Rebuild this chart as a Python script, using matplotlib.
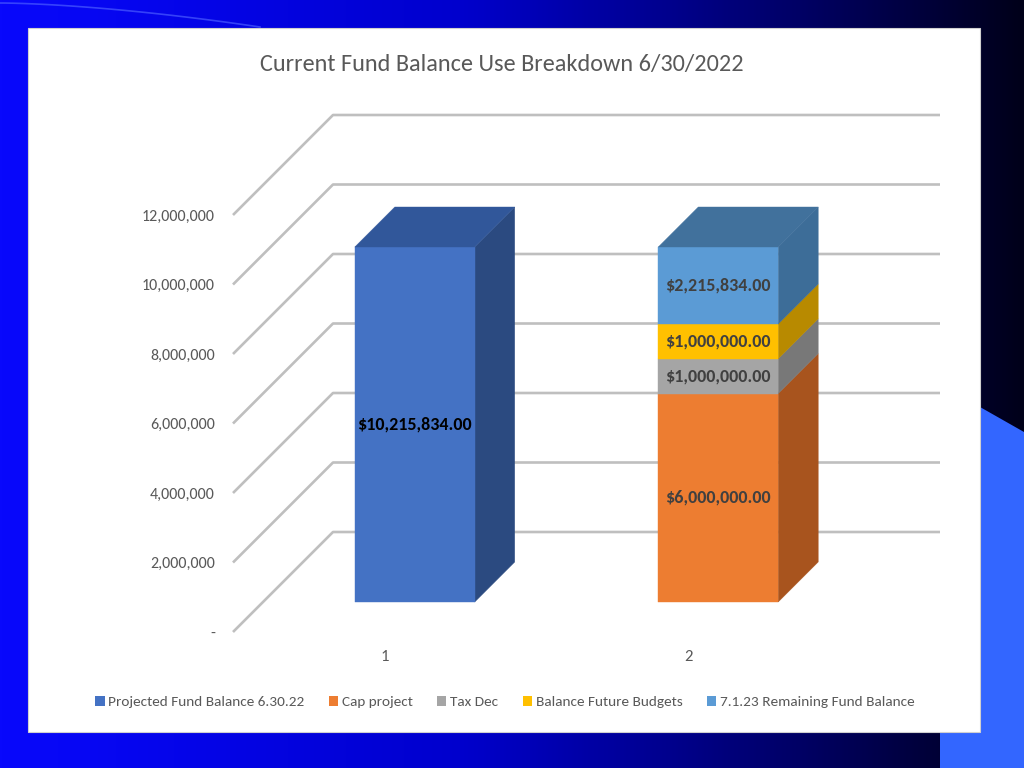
import numpy as np
import matplotlib
matplotlib.use("Agg")
import matplotlib.pyplot as plt
from matplotlib.patches import Polygon, Rectangle, Patch
from matplotlib import font_manager

names = {f.name for f in font_manager.fontManager.ttflist}
FONT = "DejaVu Sans"
for cand in ["Carlito", "Liberation Sans Narrow", "Open Sans", "Liberation Sans"]:
    if cand in names:
        FONT = cand
        break
plt.rcParams["font.family"] = [FONT, "DejaVu Sans"]

# ---------------- data ----------------
categories = ["1", "2"]
series_names = ["Projected Fund Balance 6.30.22", "Cap project", "Tax Dec",
                "Balance Future Budgets", "7.1.23 Remaining Fund Balance"]
projected = [10215834, 0]
cap_project = [0, 6000000]
tax_dec = [0, 1000000]
future_budgets = [0, 1000000]
remaining = [0, 2215834]
series_values = [projected, cap_project, tax_dec, future_budgets, remaining]
yticks = [0, 2000000, 4000000, 6000000, 8000000, 10000000, 12000000]
ytick_labels = ["-", "2,000,000", "4,000,000", "6,000,000", "8,000,000",
                "10,000,000", "12,000,000"]
title = "Current Fund Balance Use Breakdown 6/30/2022"

front_colors = ["#4472C4", "#ED7D31", "#A5A5A5", "#FFC000", "#5B9BD5"]
side_colors = ["#2B4A80", "#A8541E", "#787878", "#B88A00", "#3D6D98"]
top_colors = ["#31579A", "#B25E25", "#8A8A8A", "#C49400", "#41719C"]
label_colors = ["#000000", "#404040", "#404040", "#404040", "#404040"]

# ---------------- figure ----------------
W, H = 1024, 768
fig = plt.figure(figsize=(W / 100, H / 100), dpi=100)

# background slide
bg = fig.add_axes([0, 0, 1, 1], zorder=-10)
bg.set_xlim(0, W)
bg.set_ylim(H, 0)
bg.set_axis_off()
xs = np.linspace(0, 1, 512)
stops = [0.0, 0.45, 0.8, 1.0]
r = np.interp(xs, stops, [8, 0, 0, 0])
g = np.interp(xs, stops, [8, 0, 0, 0])
b = np.interp(xs, stops, [252, 205, 95, 25])
grad = np.stack([r, g, b], axis=-1)[None, :, :] / 255.0
bg.imshow(grad, extent=[0, W, H, 0], aspect="auto", zorder=0)
bg.add_patch(Polygon([(980, 407), (1024, 432), (1024, 768), (940, 768), (940, 732), (980, 732)],
                     closed=True, facecolor="#3366FF", edgecolor="none", zorder=1))
t = np.linspace(0, 1, 50)
bg.plot(t * 260, 3 + 24 * t ** 1.6, color="#4a5cff", lw=1.2, alpha=0.7, zorder=1)
bg.add_patch(Rectangle((28, 28), 952, 704, facecolor="white", edgecolor="#D0D0D0",
                       lw=0.8, zorder=2))

# plot axes = front plane of 3D chart
L, R, B, T = 233, 840, 632, 215
ax = fig.add_axes([L / W, (H - B) / H, (R - L) / W, (B - T) / H])
ax.set_xlim(0, 2)
ax.set_ylim(0, 12000000)
ax.patch.set_alpha(0)
for s in ax.spines.values():
    s.set_visible(False)

DEPTH_PX = 100.0
dx_unit = (2.0 / (R - L)) * DEPTH_PX
dy_unit = (12000000.0 / (B - T)) * DEPTH_PX


def P(x, v, d):
    return (x + d * dx_unit, v + d * dy_unit)


grid_color = "#BFBFBF"
for v in yticks:
    pts = [P(0, v, 0), P(0, v, 1), P(2, v, 1)]
    ax.plot([p[0] for p in pts], [p[1] for p in pts], color=grid_color, lw=1.9,
            clip_on=False, zorder=1, solid_capstyle="butt")

centers = np.arange(len(categories)) + 0.5
bw = 0.395
d0, d1 = 0.3, 0.7
z = 3
for ci, c in enumerate(centers):
    vals = [sv[ci] for sv in series_values]
    nz = [i for i, v in enumerate(vals) if v > 0]
    bottom = 0
    for si in nz:
        v = vals[si]
        y0, y1 = bottom, bottom + v
        xl, xr = c - bw / 2, c + bw / 2
        front = [P(xl, y0, d0), P(xr, y0, d0), P(xr, y1, d0), P(xl, y1, d0)]
        side = [P(xr, y0, d0), P(xr, y0, d1), P(xr, y1, d1), P(xr, y1, d0)]
        ax.add_patch(Polygon(side, closed=True, facecolor=side_colors[si],
                             edgecolor=side_colors[si], lw=0.3, clip_on=False, zorder=z))
        ax.add_patch(Polygon(front, closed=True, facecolor=front_colors[si],
                             edgecolor=front_colors[si], lw=0.3, clip_on=False, zorder=z + 1))
        if si == nz[-1]:
            top = [P(xl, y1, d0), P(xr, y1, d0), P(xr, y1, d1), P(xl, y1, d1)]
            ax.add_patch(Polygon(top, closed=True, facecolor=top_colors[si],
                                 edgecolor=top_colors[si], lw=0.3, clip_on=False, zorder=z + 1))
        lx, ly = P(c, (y0 + y1) / 2, d0)
        ax.text(lx, ly, f"${v:,.2f}", ha="center", va="center", fontsize=13,
                fontweight="bold", color=label_colors[si], zorder=z + 5, clip_on=False)
        bottom = y1
        z += 2

ax.set_yticks(yticks)
ax.set_yticklabels(ytick_labels)
ax.set_xticks(centers)
ax.set_xticklabels(categories)
ax.tick_params(axis="y", length=0, pad=13, labelsize=11.5, labelcolor="#595959")
ax.tick_params(axis="x", length=0, pad=13, labelsize=12, labelcolor="#595959")

fig.text(502 / W, 1 - 65 / H, title, ha="center", va="center", fontsize=17.5,
         color="#595959")

handles = [Patch(facecolor=c, edgecolor="none") for c in front_colors]
fig.legend(handles, series_names, loc="center", bbox_to_anchor=(505 / W, 1 - 702 / H),
           ncol=5, frameon=False, fontsize=11, labelcolor="#595959",
           handlelength=0.6, handleheight=0.6, handletextpad=0.25, columnspacing=1.6)

fig.savefig("out.png", dpi=100)
